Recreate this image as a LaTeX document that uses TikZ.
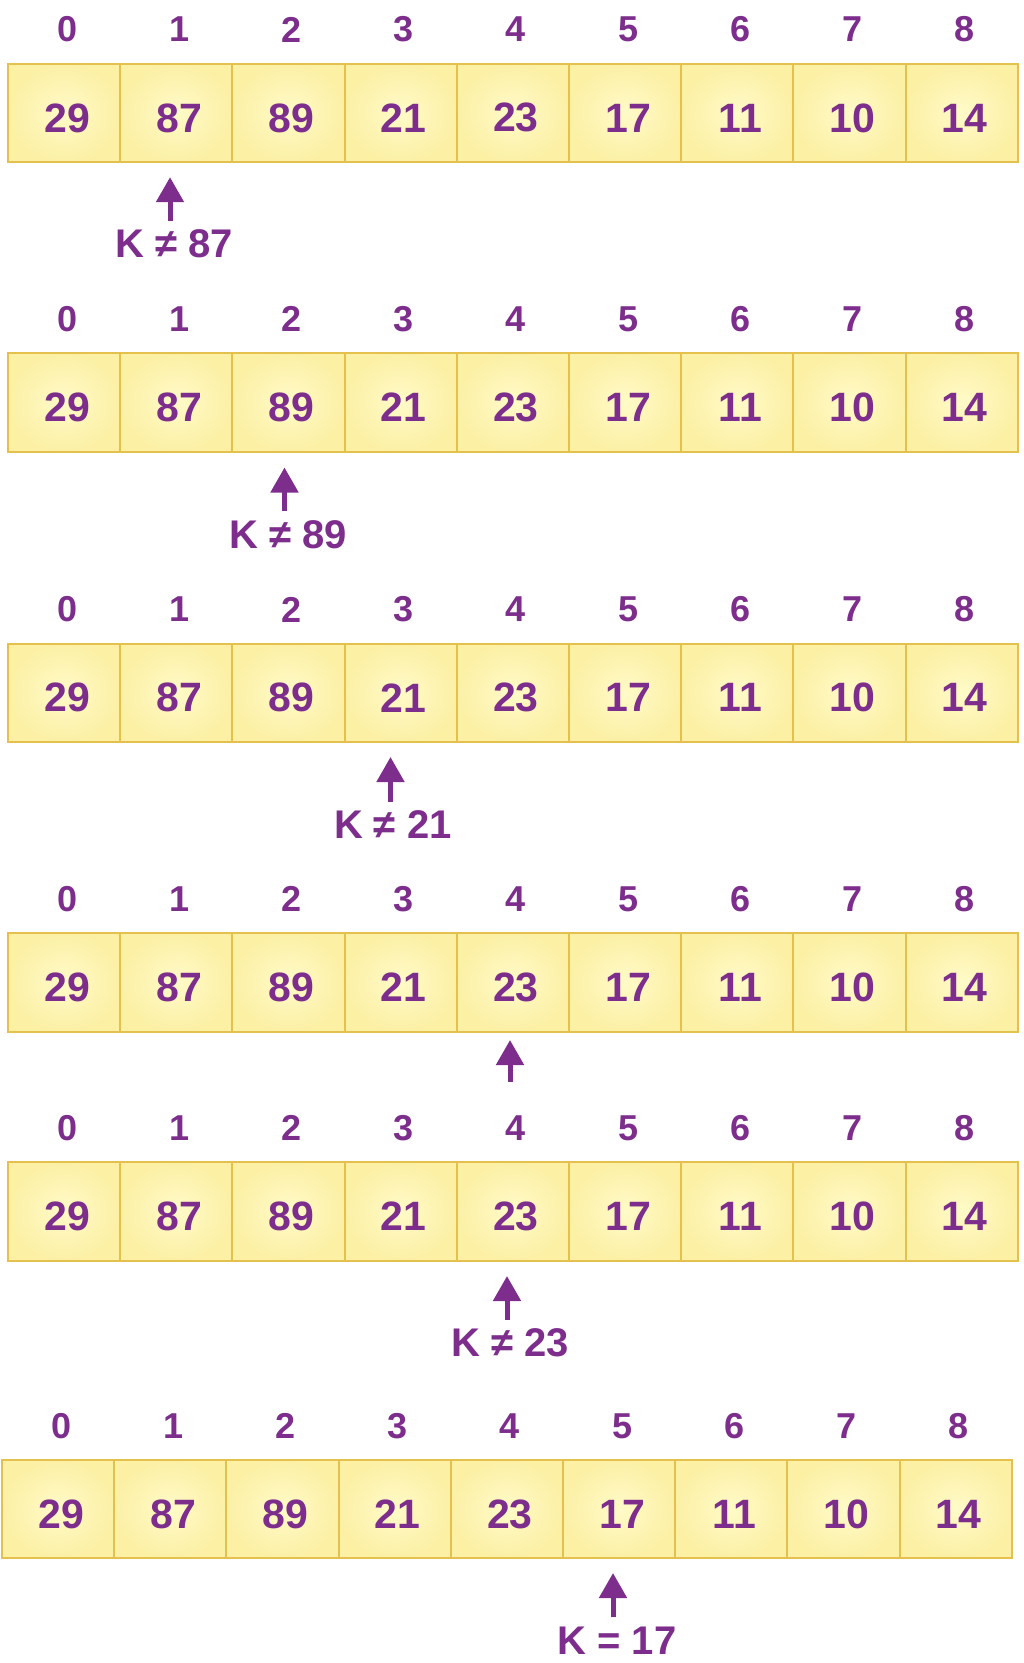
\documentclass[tikz,border=0pt]{standalone}
\usepackage{fontspec}
\setmainfont{Liberation Sans}
\usetikzlibrary{arrows.meta}
\definecolor{txtpurple}{RGB}{125,45,140}
\definecolor{cellborder}{RGB}{228,192,78}
\definecolor{cellin}{RGB}{255,250,200}
\definecolor{cellout}{RGB}{252,240,165}
\begin{document}
\begin{tikzpicture}[x=1pt,y=-1pt,
  cell/.style={draw=cellborder, line width=2pt, inner color=cellin, outer color=cellout,
    minimum width=112.2pt, minimum height=98.6pt, inner sep=0pt},
  val/.style={font=\fontsize{41}{41}\selectfont\bfseries, text=txtpurple, inner sep=0pt},
  idx/.style={font=\fontsize{36}{36}\selectfont\bfseries, text=txtpurple, inner sep=0pt},
  klabel/.style={font=\fontsize{40}{40}\selectfont\bfseries, text=txtpurple, inner sep=0pt},
  ptr/.style={draw=txtpurple, line width=5pt, -{Triangle[length=25pt,width=27pt]}}]
\useasboundingbox (0,0) rectangle (1023,1663);
\foreach \r/\T/\xo in {1/63.6/8, 2/353/8, 3/643.5/8, 4/932.9/8, 5/1161.9/8, 6/1459.8/2}{
  \foreach \i/\v in {0/29,1/87,2/89,3/21,4/23,5/17,6/11,7/10,8/14}{
    \node[cell] (c\r-\i) at ({\xo+112.2*(\i+0.5)}, {\T+49.3}) {};
    \node[val] (v\r-\i) at ([xshift=3pt,yshift=-5pt]c\r-\i.center) {\v};
    \node[idx] (n\r-\i) at ({\xo+112.2*(\i+0.5)+3}, {\T-34}) {\i};
  }
}
% row 1
\node[klabel] (k1) at (174,244.2) {K ≠ 87};
\coordinate (tip1) at (170,177.2);
\draw[ptr] (k1.north -| tip1) ++(0,-9) -- (tip1);
% row 2
\node[klabel] (k2) at (288,534.3) {K ≠ 89};
\coordinate (tip2) at (284.5,467.5);
\draw[ptr] (k2.north -| tip2) ++(0,-9) -- (tip2);
% row 3
\node[klabel] (k3) at (392.8,824.8) {K ≠ 21};
\coordinate (tip3) at (390.5,757);
\draw[ptr] (k3.north -| tip3) ++(0,-9) -- (tip3);
% row 4
\coordinate (tip4) at (510,1040);
\coordinate (tail4) at (510,1082);
\draw[ptr] (tail4) -- (tip4);
% row 5
\node[klabel] (k5) at (510,1343.2) {K ≠ 23};
\coordinate (tip5) at (507,1276);
\draw[ptr] (k5.north -| tip5) ++(0,-9) -- (tip5);
% row 6
\node[klabel] (k6) at (617,1640.4) {K = 17};
\coordinate (tip6) at (613,1573);
\draw[ptr] (k6.north -| tip6) ++(0,-9) -- (tip6);
\end{tikzpicture}
\end{document}
